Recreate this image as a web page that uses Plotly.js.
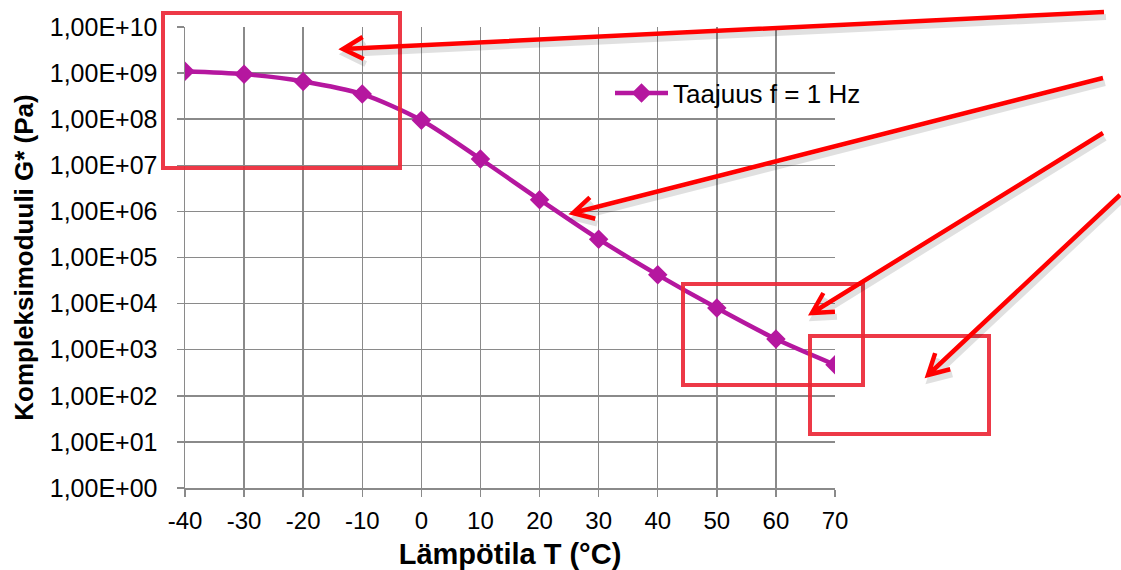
<!DOCTYPE html>
<html>
<head>
<meta charset="utf-8">
<script src="https://cdn.plot.ly/plotly-3.0.1.min.js"></script>
<style>
html,body{margin:0;padding:0;background:#fff;}
#chart{width:1121px;height:570px;}
</style>
</head>
<body>
<div id="chart"></div>
<script>
// Data
const temperatures = [-40, -30, -20, -10, 0, 10, 20, 30, 40, 50, 60, 70];
const modulusG = [1.1e9, 9.5e8, 6.6e8, 3.5e8, 9.5e7, 1.37e7, 1.8e6, 2.5e5, 4.2e4, 8.0e3, 1.7e3, 4.7e2];
const seriesName = 'Taajuus f = 1 Hz';
const yTickVals = [1e0, 1e1, 1e2, 1e3, 1e4, 1e5, 1e6, 1e7, 1e8, 1e9, 1e10];
const yTickText = ['1,00E+00','1,00E+01','1,00E+02','1,00E+03','1,00E+04','1,00E+05','1,00E+06','1,00E+07','1,00E+08','1,00E+09','1,00E+10'];
const xTickVals = [-40, -30, -20, -10, 0, 10, 20, 30, 40, 50, 60, 70];

// Layout geometry (pixels)
const W = 1121, H = 570;
const M = {l: 185, r: 286, t: 27, b: 82};
const PW = W - M.l - M.r, PH = H - M.t - M.b;
const px = X => (X - M.l) / PW;
const py = Y => (H - M.b - Y) / PH;

const rectColor = 'rgba(236,40,55,0.92)';
const arrowColor = '#ff0000';

// Highlight boxes in pixel positions [x0, y0, x1, y1]
const boxes = [
  [163, 13, 400, 168],
  [683, 284, 863, 385],
  [810, 336, 989, 434]
];
// Arrows: tail -> tip in pixel positions
const arrows = [
  [1104, 12, 343, 49],
  [1103, 78, 573, 213],
  [1103, 133, 812, 313],
  [1120, 195, 928, 375]
];

const shapes = [];
boxes.forEach(b => {
  shapes.push({type:'rect', xref:'paper', yref:'paper', x0:px(b[0]), y0:py(b[1]), x1:px(b[2]), y1:py(b[3]),
    line:{color:rectColor, width:4}, fillcolor:'rgba(0,0,0,0)', layer:'above'});
});
function arrowPath(a, dx, dy) {
  const [x0, y0, x1, y1] = a;
  const ang = Math.atan2(y1 - y0, x1 - x0);
  const L = 23, spread = 0.5;
  const ax1 = x1 - L * Math.cos(ang - spread), ay1 = y1 - L * Math.sin(ang - spread);
  const ax2 = x1 - L * Math.cos(ang + spread), ay2 = y1 - L * Math.sin(ang + spread);
  const P = (X, Y) => px(X + dx) + ',' + py(Y + dy);
  return 'M' + P(x0, y0) + 'L' + P(x1, y1) + 'M' + P(ax1, ay1) + 'L' + P(x1, y1) + 'L' + P(ax2, ay2);
}
arrows.forEach(a => {
  shapes.push({type:'path', xref:'paper', yref:'paper', path:arrowPath(a, 2, 5),
    line:{color:'rgba(0,0,0,0.12)', width:6}, layer:'above'});
});
arrows.forEach(a => {
  shapes.push({type:'path', xref:'paper', yref:'paper', path:arrowPath(a, 0, 0),
    line:{color:arrowColor, width:4.5}, layer:'above'});
});

const trace = {
  x: temperatures, y: modulusG, name: seriesName,
  type: 'scatter', mode: 'lines+markers',
  line: {color: '#b5179f', width: 4.5, shape: 'spline', smoothing: 0.8},
  marker: {symbol: 'diamond', size: 15, color: '#b5179f'},
  showlegend: true
};

const font = {family: 'Liberation Sans, Arial, sans-serif', color: '#000'};
const layout = {
  width: W, height: H,
  margin: M,
  paper_bgcolor: '#fff', plot_bgcolor: '#fff',
  font: Object.assign({}, font, {size: 25}),
  showlegend: true,
  legend: {x: px(610), y: py(93), xanchor: 'left', yanchor: 'middle', bgcolor: 'rgba(0,0,0,0)',
    font: Object.assign({}, font, {size: 26}), itemwidth: 53},
  xaxis: {
    range: [-40, 70], tickvals: xTickVals, ticktext: xTickVals.map(String),
    showgrid: true, gridcolor: '#8a8a8a', gridwidth: 1.5,
    showline: true, linecolor: '#8a8a8a', linewidth: 1.5,
    ticks: 'outside', ticklen: 7, tickcolor: '#8a8a8a', tickwidth: 1.5,
    zeroline: false, mirror: false,
    ticklabelstandoff: 4,
    tickfont: Object.assign({}, font, {size: 24}),
    title: {text: '<b>Lämpötila T (°C)</b>', font: Object.assign({}, font, {size: 29}), standoff: 11}
  },
  yaxis: {
    type: 'log', range: [0, 10], tickvals: yTickVals, ticktext: yTickText,
    showgrid: true, gridcolor: '#8a8a8a', gridwidth: 1.5,
    showline: true, linecolor: '#8a8a8a', linewidth: 1.5,
    ticks: 'outside', ticklen: 7, tickcolor: '#8a8a8a', tickwidth: 1.5,
    zeroline: false,
    ticklabelstandoff: 14,
    tickfont: Object.assign({}, font, {size: 25}),
    title: {text: '<b>Kompleksimoduuli G* (Pa)</b>', font: Object.assign({}, font, {size: 26}), standoff: 8}
  },
  shapes: shapes
};

Plotly.newPlot('chart', [trace], layout, {displayModeBar: false, staticPlot: true});
</script>
</body>
</html>
